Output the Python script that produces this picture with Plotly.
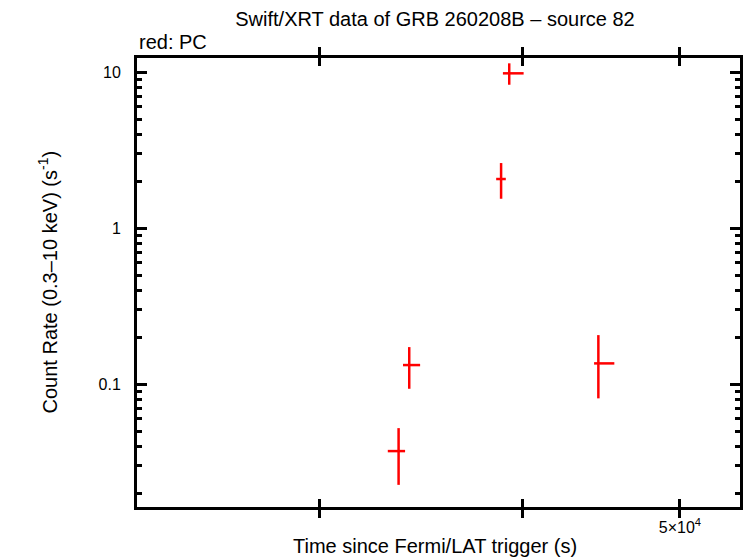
import plotly.graph_objects as go
import numpy as np

# Data (time since trigger in s, count rate in s^-1)
time_s = [33550, 34060, 38800, 39250, 44540]
time_lo = [33040, 33760, 38530, 38900, 44270]
time_hi = [33860, 34590, 39060, 40060, 45560]
rate = [0.0372, 0.1324, 2.062, 9.81, 0.1357]
rate_lo = [0.0226, 0.0933, 1.541, 8.29, 0.081]
rate_hi = [0.0522, 0.1726, 2.61, 11.37, 0.206]

x_ticks = [30000, 40000, 50000]
x_ticktext = ["", "", "5×10<sup>4</sup>"]
y_ticks = [0.1, 1, 10]
y_ticktext = ["0.1", "1", "10"]
y_minor = [m * d for d in (0.01, 0.1, 1) for m in range(2, 10)]

FONT = "Liberation Sans, Arial, Helvetica, sans-serif"
TXT = 20
Y_RANGE = [np.log10(0.0163), np.log10(12.3)]

fig = go.Figure()
fig.add_trace(go.Scatter(
    x=time_s, y=rate, mode="markers",
    marker=dict(size=1, color="red"),
    error_x=dict(type="data", symmetric=False,
                 array=[h - c for h, c in zip(time_hi, time_s)],
                 arrayminus=[c - l for c, l in zip(time_s, time_lo)],
                 color="red", thickness=2.5, width=0),
    error_y=dict(type="data", symmetric=False,
                 array=[h - c for h, c in zip(rate_hi, rate)],
                 arrayminus=[c - l for c, l in zip(rate, rate_lo)],
                 color="red", thickness=2.5, width=0),
    showlegend=False,
    hoverinfo="skip",
))
# empty trace to host the minor-tick axis
fig.add_trace(go.Scatter(x=[], y=[], yaxis="y2", showlegend=False, hoverinfo="skip"))

fig.update_layout(
    width=746, height=558,
    margin=dict(l=137, r=3, t=58, b=51),
    paper_bgcolor="white", plot_bgcolor="white",
    font=dict(family=FONT, size=16, color="black"),
    title=dict(text="Swift/XRT data of GRB 260208B – source 82",
               x=435 / 746, xanchor="center", xref="container",
               y=1 - 19 / 558, yanchor="middle", yref="container",
               font=dict(size=TXT)),
    yaxis2=dict(
        overlaying="y", side="left", type="log", range=Y_RANGE,
        tickvals=y_minor, ticktext=[""] * len(y_minor),
        ticks="inside", ticklen=5, tickwidth=2.5, tickcolor="black",
        mirror="allticks", showline=False, showgrid=False, zeroline=False,
    ),
)

fig.update_xaxes(
    type="log", range=[np.log10(23150), np.log10(54450)],
    tickvals=x_ticks, ticktext=x_ticktext,
    ticks="inside", ticklen=8, tickwidth=3, tickcolor="black",
    showline=True, linewidth=3, linecolor="black", mirror="allticks",
    showgrid=False, zeroline=False,
    tickfont=dict(size=16), ticklabelstandoff=4,
)
fig.update_layout(yaxis=dict(
    type="log", range=Y_RANGE,
    tickvals=y_ticks, ticktext=y_ticktext,
    ticks="inside", ticklen=10, tickwidth=3, tickcolor="black",
    showline=True, linewidth=3, linecolor="black", mirror="allticks",
    showgrid=False, zeroline=False,
    tickfont=dict(size=16), ticklabelstandoff=10,
))

fig.add_annotation(text="red: PC", xref="paper", yref="paper",
                   x=0, y=(507 - 42) / 449, xanchor="left", yanchor="middle",
                   showarrow=False, font=dict(size=TXT))
fig.add_annotation(text="Time since Fermi/LAT trigger (s)", xref="paper", yref="paper",
                   x=(436 - 137) / 606, y=(507 - 546) / 449,
                   xanchor="center", yanchor="middle",
                   showarrow=False, font=dict(size=TXT))
fig.add_annotation(text="Count Rate (0.3–10 keV) (s<sup>-1</sup>)", xref="paper", yref="paper",
                   x=(47 - 137) / 606, y=(507 - 282) / 449, textangle=-90,
                   xanchor="center", yanchor="middle",
                   showarrow=False, font=dict(size=TXT))

fig.write_html("out.html", config={"displayModeBar": False},
               post_script="document.body.style.margin='0';")
